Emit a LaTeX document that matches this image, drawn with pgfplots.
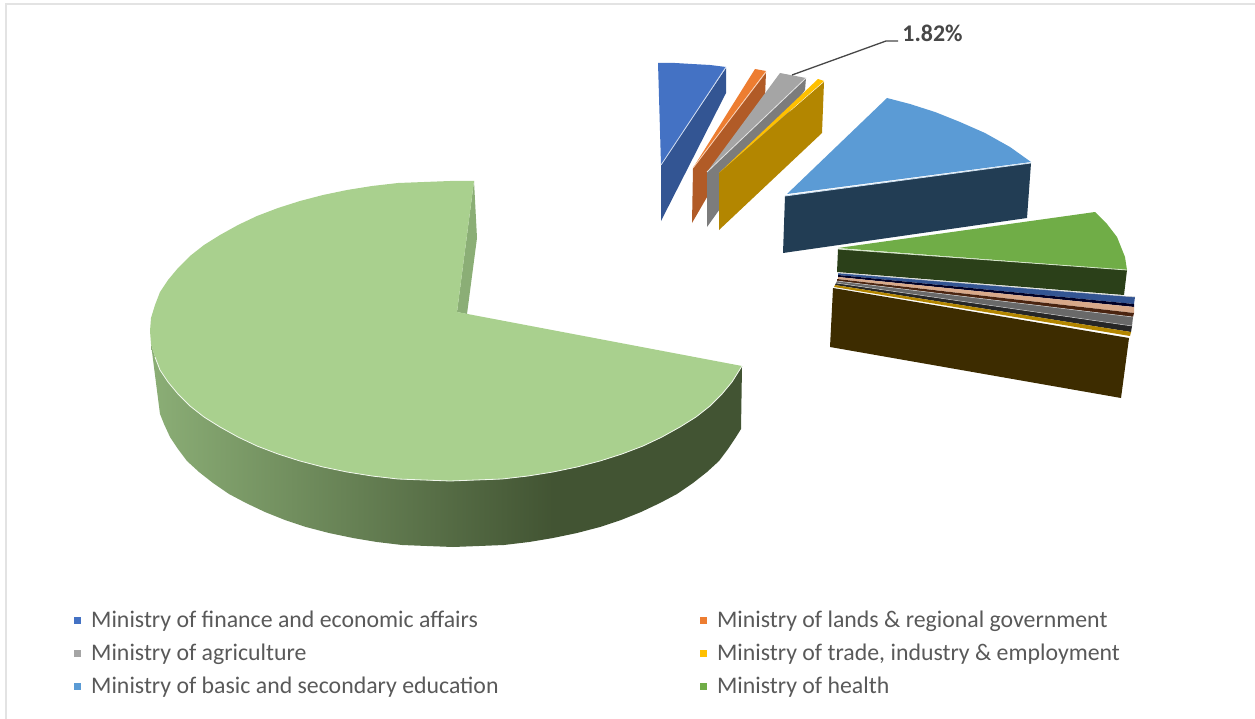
\documentclass[border=0pt]{standalone}
\usepackage{fontspec}
\setmainfont{Carlito}
\usepackage{pgfplots}
\pgfplotsset{compat=1.18}
\definecolor{finance}{HTML}{4472C4}
\definecolor{financeside}{HTML}{335593}
\definecolor{lands}{HTML}{ED7D31}
\definecolor{landsside}{HTML}{B15B27}
\definecolor{agri}{HTML}{A5A5A5}
\definecolor{agriside}{HTML}{7C7C7C}
\definecolor{trade}{HTML}{FFC000}
\definecolor{tradeside}{HTML}{B38600}
\definecolor{basic}{HTML}{5B9BD5}
\definecolor{basicside}{HTML}{223D54}
\definecolor{health}{HTML}{70AD47}
\definecolor{healthside}{HTML}{2B4019}
\definecolor{rest}{HTML}{A9D08E}
\definecolor{restcut}{HTML}{8BAE76}
\definecolor{restdark}{HTML}{425433}
\definecolor{stackbrown}{HTML}{3D2C00}
\definecolor{peach}{HTML}{D8A98A}
\definecolor{deepbrown}{HTML}{4A2410}
\definecolor{legendtext}{HTML}{595959}
\pgfdeclarehorizontalshading{sidefall}{100bp}{
  color(0bp)=(restcut); color(25bp)=(restcut); color(59bp)=(restdark); color(100bp)=(restdark)}
\begin{document}
\begin{tikzpicture}
\begin{axis}[
  width=1255bp, height=719bp, scale only axis,
  xmin=0, xmax=1255, ymin=0, ymax=719, y dir=reverse,
  axis lines=none, clip=false,
  legend columns=2,
  legend image code/.code={\path[#1,draw=none] (0bp,-3.5bp) rectangle (7bp,3.5bp);},
  legend style={
    at={(axis cs:71,607)}, anchor=north west, draw=none, fill=none,
    font=\fontsize{23.9}{26}\selectfont, text=legendtext,
    cells={anchor=west}, row sep=11bp,
    /tikz/column 1/.style={column sep=7bp},
    /tikz/column 2/.style={column sep=198.5bp},
    /tikz/column 3/.style={column sep=7bp},
    /tikz/nodes={inner xsep=3bp, inner ysep=2bp}},
]
% chart frame
\addplot[draw=black!11, line width=2bp, forget plot] coordinates {(6,719) (6,4) (1255,4)};

% outer ring of the main slice, drawn first
\addplot[draw=none, shade, shading=sidefall, forget plot] coordinates {
 (151,344) (155,357) (160,370) (168,382) (178,394) (190,406) (204,417) (220,427) (238,437) (257,446) (278,454)
 (300,461) (323,467) (347,472) (372,476) (398,479) (424,480) (450,481) (476,480) (502,479) (528,476)
 (553,472) (577,467) (600,461) (622,454) (643,446) (662,437) (680,427) (696,417) (710,406) (722,394)
 (732,382) (742,366) (741,429) (736,437) (728,449) (719,461) (707,472) (693,483) (677,494) (660,503)
 (641,512) (621,520) (600,527) (577,533) (553,538) (529,542) (504,545) (479,546) (453,547) (427,546)
 (402,545) (377,542) (353,538) (329,533) (306,527) (285,520) (265,512) (246,503) (229,494) (213,483)
 (199,472) (187,461) (178,449) (170,437) (164,424) (160,414)} -- cycle;
% cut face of the main slice
\addplot[fill=restcut, draw=none, forget plot] coordinates {(474,181) (477,238) (467,314) (457,312)} -- cycle;
% top face of the main slice
\addplot[fill=rest, draw=none, forget plot] coordinates {
 (457,312) (474,181) (450,181) (424,182) (398,183) (372,186) (347,190) (323,195) (300,201) (278,208)
 (257,216) (238,225) (220,235) (204,245) (190,256) (178,268) (168,280) (160,292) (155,305) (151,318)
 (150,331) (151,344) (155,357) (160,370) (168,382) (178,394) (190,406) (204,417) (220,427) (238,437)
 (257,446) (278,454) (300,461) (323,467) (347,472) (372,476) (398,479) (424,480) (450,481) (476,480)
 (502,479) (528,476) (553,472) (577,467) (600,461) (622,454) (643,446) (662,437) (680,427) (696,417)
 (710,406) (722,394) (732,382) (742,366)} -- cycle;
\addplot[draw=white!85!rest, line width=0.8bp, forget plot] coordinates {
 (155,357) (160,370) (168,382) (178,394) (190,406) (204,417) (220,427) (238,437) (257,446) (278,454)
 (300,461) (323,467) (347,472) (372,476) (398,479) (424,480) (450,481) (476,480) (502,479) (528,476)
 (553,472) (577,467) (600,461) (622,454) (643,446) (662,437) (680,427) (696,417) (710,406) (722,394)
 (732,382) (742,366)};

% finance slice
\addplot[fill=financeside, draw=none, forget plot] coordinates {(726,68) (726,93) (661,221) (661,165)} -- cycle;
\addplot[fill=finance, draw=none, forget plot] coordinates {(658,63) (675,63) (692,64) (710,65) (726,67) (661,165)} -- cycle;
\addplot[draw=white!75!finance, line width=0.8bp, forget plot] coordinates {(726,67) (661,165)};
% lands slice
\addplot[fill=landsside, draw=none, forget plot] coordinates {(766,72) (765,97) (692,223) (693,168)} -- cycle;
\addplot[fill=lands, draw=none, forget plot] coordinates {(755,69) (766,71) (693,168)} -- cycle;
\addplot[draw=white!65!lands, line width=0.8bp, forget plot] coordinates {(766,72) (693,168)};
% agriculture slice
\addplot[fill=agriside, draw=none, forget plot] coordinates {(806,78) (805,90) (707,227) (707,172)} -- cycle;
\addplot[fill=agri, draw=none, forget plot] coordinates {(780,73) (806,78) (707,172)} -- cycle;
\addplot[draw=white!70!agri, line width=0.8bp, forget plot] coordinates {(806,78) (707,172)};
% trade slice
\addplot[fill=tradeside, draw=none, forget plot] coordinates {(824,82) (822,133) (719,230) (719,173)} -- cycle;
\addplot[fill=trade, draw=none, forget plot] coordinates {(818,79) (824,81) (719,173)} -- cycle;

% basic education slice
\addplot[fill=basicside, draw=none, forget plot] coordinates {(1031,163) (1027,218) (783,253) (785,196)} -- cycle;
\addplot[fill=basic, draw=none, forget plot] coordinates {(887,98) (910,104) (935,112) (960,122) (985,133) (1010,147) (1031,162) (787,194)} -- cycle;
\addplot[draw=white!70!basic, line width=0.8bp, forget plot] coordinates {(1031,163) (785,196)};

% health slice
\addplot[fill=healthside, draw=none, forget plot] coordinates {(1127,270) (1124,295) (837,272) (838,249)} -- cycle;
\addplot[fill=health, draw=none, forget plot] coordinates {(838,248) (1095,212) (1107,224) (1117,237) (1125,257) (1127,270)} -- cycle;
\addplot[draw=white!70!health, line width=0.8bp, forget plot] coordinates {(1127,270) (838,249)};

% thin slices seen edge on, stacked above the brown block
\addplot[fill=financeside, draw=none, forget plot] coordinates {(838,273) (1135,297) (1134,304) (838,275)} -- cycle;
\addplot[fill=black!85!blue, draw=none, forget plot] coordinates {(838,275) (1134,304) (1134,307) (838,277)} -- cycle;
\addplot[fill=peach, draw=none, forget plot] coordinates {(838,277) (1134,307) (1134,313) (838,279)} -- cycle;
\addplot[fill=deepbrown, draw=none, forget plot] coordinates {(837,279) (1134,313) (1133,317) (837,281)} -- cycle;
\addplot[fill=agriside!85!black, draw=none, forget plot] coordinates {(837,281) (1133,317) (1132,326) (836,283)} -- cycle;
\addplot[fill=black!85, draw=none, forget plot] coordinates {(836,283) (1132,326) (1131,332) (835,285)} -- cycle;
\addplot[fill=tradeside, draw=none, forget plot] coordinates {(835,285) (1131,332) (1130,336) (834,287)} -- cycle;
\addplot[draw=white!80!black, line width=0.5bp, forget plot] coordinates {(837,281) (1133,317)};
\addplot[draw=white!80!black, line width=0.5bp, forget plot] coordinates {(838,273) (1135,297)};
\addplot[draw=white!80!black, line width=0.5bp, forget plot] coordinates {(836,283) (1132,326)};
\addplot[fill=stackbrown, draw=none, forget plot] coordinates {(833,288) (1129,338) (1121,398) (830,347)} -- cycle;

% callout for the agriculture slice
\addplot[draw=black!72, line width=1.3bp, forget plot] coordinates {(792,75) (886,41) (898,41)};
\node[anchor=center, text=black!72, font=\fontsize{24}{26}\selectfont\bfseries] at (axis cs:932.5,33) {1.82\%};

% legend keys and entries
\addlegendimage{fill=finance}
\addlegendentry{Ministry of finance and economic affairs}
\addlegendimage{fill=lands}
\addlegendentry{Ministry of lands \& regional government}
\addlegendimage{fill=agri}
\addlegendentry{Ministry of agriculture}
\addlegendimage{fill=trade}
\addlegendentry{Ministry of trade, industry \& employment}
\addlegendimage{fill=basic}
\addlegendentry{Ministry of basic and secondary education}
\addlegendimage{fill=health}
\addlegendentry{Ministry of health}
\end{axis}
\pgfresetboundingbox
\path[use as bounding box] (0,0) rectangle (1255bp,719bp);
\end{tikzpicture}
\end{document}
